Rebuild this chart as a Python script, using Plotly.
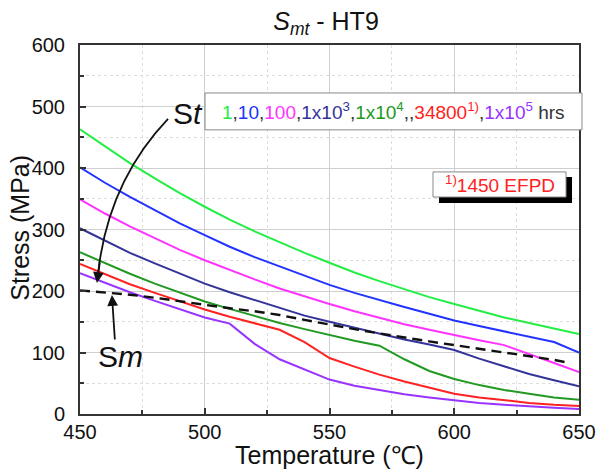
import plotly.graph_objects as go

# ---- data ----
temps = [450, 460, 470, 480, 490, 500, 510, 520, 530, 540, 550,
         560, 570, 580, 590, 600, 610, 620, 630, 640, 650]
st_1h     = [463, 435, 408, 383, 359, 337, 316, 297, 279, 262, 246, 230, 216, 203, 190, 179, 168, 157, 148, 139, 130]
st_10h    = [401, 376, 353, 331, 310, 291, 272, 255, 240, 224, 210, 197, 185, 174, 163, 152, 143, 134, 126, 117, 100]
st_100h   = [349, 326, 305, 286, 267, 250, 234, 219, 204, 191, 179, 167, 156, 146, 137, 128, 120, 112, 98, 83, 68]
st_1e3h   = [302, 282, 262, 245, 228, 212, 198, 185, 172, 160, 150, 140, 130, 121, 113, 104, 90, 77, 65, 55, 45]
st_1e4h   = [263, 245, 228, 212, 197, 183, 171, 159, 148, 138, 128, 119, 111, 89, 70, 57, 47, 39, 33, 27, 23]
st_34800h = [244, 227, 211, 197, 183, 170, 158, 147, 137, 117, 91, 77, 64, 53, 43, 33, 27, 22, 18, 15, 13]
st_1e5h   = [229, 213, 198, 184, 171, 157, 147, 114, 89, 72, 56, 46, 39, 32, 27, 22, 18, 15, 12, 10, 8]

sm_temps = [450, 460, 470, 480, 490, 500, 510, 520, 530, 540, 550,
            560, 570, 580, 590, 600, 610, 620, 630, 640, 645]
sm_vals  = [201, 198, 194, 189, 183, 177, 172, 167, 161, 153, 145,
            138, 131, 124, 118, 112, 106, 101, 95, 88, 84]

series_names = ["1 hr", "10 hrs", "100 hrs", "1x10^3 hrs", "1x10^4 hrs", "34800 hrs", "1x10^5 hrs"]
series_vals = [st_1h, st_10h, st_100h, st_1e3h, st_1e4h, st_34800h, st_1e5h]
series_colors = ["#22ee44", "#2233ff", "#ff33ff", "#333399", "#229922", "#ff2222", "#9933ff"]

x_ticks = [450, 500, 550, 600, 650]
y_ticks = [0, 100, 200, 300, 400, 500, 600]

FONT = "Arial, Liberation Sans, sans-serif"

fig = go.Figure()
for name, vals, col in zip(series_names, series_vals, series_colors):
    fig.add_trace(go.Scatter(x=temps, y=vals, mode="lines", name=name,
                             line=dict(color=col, width=2), showlegend=False))
fig.add_trace(go.Scatter(x=sm_temps, y=sm_vals, mode="lines", name="Sm",
                         line=dict(color="#111111", width=2.4, dash="10px,6px"),
                         showlegend=False))

axis_common = dict(
    showline=True, linecolor="#333333", linewidth=2, mirror=True,
    ticks="inside", ticklen=6, tickwidth=1.5, tickcolor="#333333",
    showgrid=True, gridcolor="#cfcfcf", gridwidth=1, zeroline=False,
    tickfont=dict(family=FONT, size=20, color="#111111"),
    automargin=False,
)

fig.update_xaxes(range=[450, 650], tickvals=x_ticks, **axis_common,
                 minor=dict(dtick=25, tick0=450, ticks="inside", ticklen=4,
                            tickcolor="#333333", showgrid=True,
                            gridcolor="#dddddd", griddash="dot"),
                 ticklabelstandoff=-1)
fig.update_yaxes(range=[0, 600], tickvals=y_ticks, **axis_common,
                 minor=dict(dtick=50, tick0=0, ticks="inside", ticklen=4,
                            tickcolor="#333333", showgrid=True,
                            gridcolor="#dddddd", griddash="dot"),
                 ticklabelstandoff=9)

legend_text = ('<span style="color:#22ee44">1</span>,'
               '<span style="color:#2233ff">10</span>,'
               '<span style="color:#ff33ff">100</span>,'
               '<span style="color:#333399">1x10<sup>3</sup></span>,'
               '<span style="color:#229922">1x10<sup>4</sup></span>,,'
               '<span style="color:#ff2222">34800<sup>1)</sup></span>,'
               '<span style="color:#9933ff">1x10<sup>5</sup></span> hrs')

shapes = [
    # legend box
    dict(type="rect", xref="paper", yref="paper", x0=0.2505, x1=1.006, y0=0.770, y1=0.870,
         fillcolor="white", line=dict(color="#888888", width=1), layer="above"),
    # EFPD shadow
    dict(type="rect", xref="paper", yref="paper", x0=0.7194, x1=0.986, y0=0.572, y1=0.642,
         fillcolor="black", line=dict(width=0), layer="above"),
    # EFPD box
    dict(type="rect", xref="paper", yref="paper", x0=0.7074, x1=0.974, y0=0.588, y1=0.656,
         fillcolor="white", line=dict(color="#888888", width=1), layer="above"),
    # curved St arrow
    dict(type="path", xref="paper", yref="paper",
         path="M 0.1764,0.7995 C 0.1002,0.6911 0.0501,0.5556 0.0361,0.3794",
         line=dict(color="#111111", width=1.8), layer="above"),
]

annotations = [
    dict(xref="paper", yref="paper", x=0.628, y=0.820, text=legend_text, showarrow=False,
         font=dict(family=FONT, size=19, color="#333333"), xanchor="center", yanchor="middle"),
    dict(xref="paper", yref="paper", x=0.8407, y=0.622,
         text='<sup>1)</sup>1450 EFPD', showarrow=False,
         font=dict(family=FONT, size=19, color="#ff2222"), xanchor="center", yanchor="middle"),
    dict(x=493.3, y=489, text="S<i>t</i>", showarrow=False,
         font=dict(family=FONT, size=30, color="#111111")),
    dict(x=466.4, y=94, text="S<i>m</i>", showarrow=False,
         font=dict(family=FONT, size=30, color="#111111")),
    # arrow heads
    dict(x=456.8, y=213, text="", showarrow=True, ax=3, ay=-22, arrowhead=2,
         arrowsize=1.2, arrowwidth=1.8, arrowcolor="#111111"),
    dict(x=462.8, y=193.5, text="", showarrow=True, ax=3, ay=46, arrowhead=2,
         arrowsize=1.2, arrowwidth=1.8, arrowcolor="#111111"),
    # axis titles
    dict(xref="paper", yref="paper", x=0.5, y=-0.111, text="Temperature (℃)",
         showarrow=False, xanchor="center", yanchor="middle",
         font=dict(family=FONT, size=25, color="#111111")),
    dict(xref="paper", yref="paper", x=-0.120, y=0.505, text="Stress (MPa)",
         showarrow=False, xanchor="center", yanchor="middle", textangle=-90,
         font=dict(family=FONT, size=25, color="#111111")),
]

fig.update_layout(
    width=598, height=470,
    margin=dict(l=80, r=19, t=45, b=56),
    paper_bgcolor="white", plot_bgcolor="white",
    title=dict(text="<i>S</i><sub><i>mt</i></sub> - HT9", x=0.493, xref="paper",
               y=0.955, yref="container", xanchor="center", yanchor="middle",
               font=dict(family=FONT, size=25, color="#111111")),
    shapes=shapes, annotations=annotations,
)

fig.write_html("out.html", config={"displayModeBar": False},
               post_script="document.body.style.margin='0px';document.body.style.overflow='hidden';")
